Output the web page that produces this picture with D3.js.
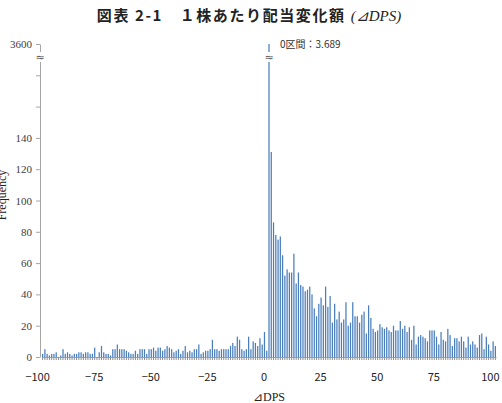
<!DOCTYPE html>
<html>
<head>
<meta charset="utf-8">
<script src="https://cdn.jsdelivr.net/npm/d3@7"></script>
<style>
  body { margin: 0; background: #fff; }
</style>
</head>
<body>
<svg width="502" height="403"></svg>
<script>
// counts per 1-unit DPS interval
const leftCounts = [ // -100 .. -1
    2, 5, 2, 1, 2, 2, 3, 0, 1, 5,
    2, 3, 2, 1, 2, 2, 3, 3, 2, 3,
    3, 2, 2, 6, 0, 3, 7, 3, 2, 2,
    1, 5, 5, 8, 5, 5, 5, 4, 3, 2,
    2, 4, 2, 5, 5, 5, 2, 5, 5, 6,
    4, 6, 6, 4, 5, 7, 6, 5, 3, 4,
    5, 2, 4, 7, 3, 4, 3, 5, 5, 8,
    2, 3, 4, 4, 5, 11, 5, 5, 4, 5,
    5, 5, 5, 7, 9, 7, 13, 11, 5,
    4, 5, 13, 5, 10, 9, 7, 12,
    8, 16, 4
];
const zeroCount = 3689;
const rightCounts = [ // 1 .. 100
    131, 86, 78, 75, 77, 65, 52, 56, 54, 54,
    66, 47, 54, 46, 45, 42, 43, 45, 40, 31,
    26, 34, 38, 33, 45, 32, 39, 22, 34, 24,
    29, 22, 24, 35, 20, 22, 35, 26, 26, 22,
    27, 29, 15, 33, 25, 18, 16, 17, 21, 19,
    18, 19, 17, 16, 20, 17, 17, 23, 18, 20,
    16, 19, 11, 20, 8, 13, 14, 13, 12, 10,
    17, 17, 17, 13, 8, 16, 11, 10, 18, 14,
    7, 12, 12, 10, 13, 10, 6, 13, 8, 10,
    8, 6, 14, 15, 5, 13, 8, 4, 10, 7
];
const categories = d3.range(-100, 101);
const counts = leftCounts.concat([zeroCount], rightCounts);

const yTicks = [0, 20, 40, 60, 80, 100, 120, 140, 160, 180, 200];
const yTickLabels = ["0", "20", "40", "60", "80", "100", "120", "140", "", "", "3600"];
const xLabelValues = [-100, -75, -50, -25, 0, 25, 50, 75, 100];
const xLabels = ["\u2212100", "\u221275", "\u221250", "\u221225", "0", "25", "50", "75", "100"];

const titleMain = "図表 2-1　１株あたり配当変化額 ";
const titleTail = "(⊿DPS)";
const xTitle = "⊿DPS";
const yTitle = "Frequency";

let svg = d3.select("svg");
let data = categories.map((c, i) => ({ cat: c, n: counts[i] }));

let x = d3.scaleBand()
    .domain(categories)
    .range([42, 496])
    .paddingInner(0.45);

let y = d3.scaleLinear()
    .domain([0, 200])
    .range([357, 44])
    .clamp(true);

// title
let t = svg.append("text")
    .attr("x", 249)
    .attr("y", 21)
    .attr("text-anchor", "middle")
    .style("font-size", "15px")
    .style("fill", "#222");
t.append("tspan")
    .text(titleMain)
    .style("font-family", "'Noto Sans CJK JP'")
    .style("font-weight", "bold")
    .style("letter-spacing", "1.6px");
t.append("tspan")
    .text(titleTail)
    .style("font-family", "'Liberation Serif'")
    .style("font-style", "italic");

// y axis
let yAxis = svg.append("g")
    .attr("transform", "translate(40,0)")
    .call(d3.axisLeft(y)
        .tickValues(yTicks)
        .tickSize(4)
        .tickSizeOuter(0)
        .tickFormat((d, i) => yTickLabels[i]));
yAxis.select(".domain").attr("stroke", "#a6a6a6");
yAxis.selectAll(".tick line").attr("stroke", "#a6a6a6");
yAxis.selectAll(".tick text")
    .attr("x", -8)
    .style("font-family", "'Liberation Serif'")
    .style("font-size", "11px")
    .style("fill", "#404040");

// x axis (tick per category)
let xAxis = svg.append("g")
    .attr("transform", "translate(0,357)")
    .call(d3.axisBottom(x)
        .tickValues(categories)
        .tickSize(3)
        .tickSizeOuter(0)
        .tickFormat(""));
xAxis.select(".domain").attr("stroke", "#a6a6a6");
xAxis.selectAll(".tick line").attr("stroke", "#8c8c8c");

// bars
svg.append("g").selectAll("rect")
    .data(data)
    .enter()
    .append("rect")
    .attr("x", d => x(d.cat))
    .attr("width", x.bandwidth())
    .attr("y", d => y(d.n))
    .attr("height", d => y(0) - y(d.n))
    .attr("fill", "#4a7ebb");

// x labels (sit a little left of their bins, as in the original)
svg.append("g").selectAll("text")
    .data(xLabelValues)
    .enter()
    .append("text")
    .attr("x", d => x(d) + x.bandwidth() / 2 - 5)
    .attr("y", 381)
    .attr("text-anchor", "middle")
    .text((d, i) => xLabels[i])
    .style("font-family", "'Noto Sans CJK JP'")
    .style("font-size", "11px")
    .style("fill", "#222");

// axis break marks
function breakMark(cx, cy) {
    svg.append("rect")
        .attr("x", cx - 5).attr("y", cy - 5)
        .attr("width", 10).attr("height", 10)
        .attr("fill", "#fff");
    svg.append("text")
        .attr("x", cx).attr("y", cy + 4)
        .attr("text-anchor", "middle")
        .text("≈")
        .style("font-family", "'DejaVu Sans'")
        .style("font-size", "11px")
        .style("fill", "#555");
}
breakMark(40, 57);
breakMark(x(0) + x.bandwidth() / 2, 57);

// zero bin annotation
svg.append("text")
    .attr("x", 280)
    .attr("y", 48)
    .text("0区間：" + d3.format(",")(zeroCount).replace(",", "."))
    .style("font-family", "'Noto Sans CJK JP'")
    .style("font-size", "10px")
    .style("fill", "#333");

// axis titles
svg.append("text")
    .attr("x", 269)
    .attr("y", 401)
    .attr("text-anchor", "middle")
    .text(xTitle)
    .style("font-family", "'Liberation Serif'")
    .style("font-size", "12px")
    .style("fill", "#222");

svg.append("text")
    .attr("transform", "translate(6,195) rotate(-90)")
    .attr("text-anchor", "middle")
    .text(yTitle)
    .style("font-family", "'Liberation Serif'")
    .style("font-size", "12px")
    .style("fill", "#222");
</script>
</body>
</html>
